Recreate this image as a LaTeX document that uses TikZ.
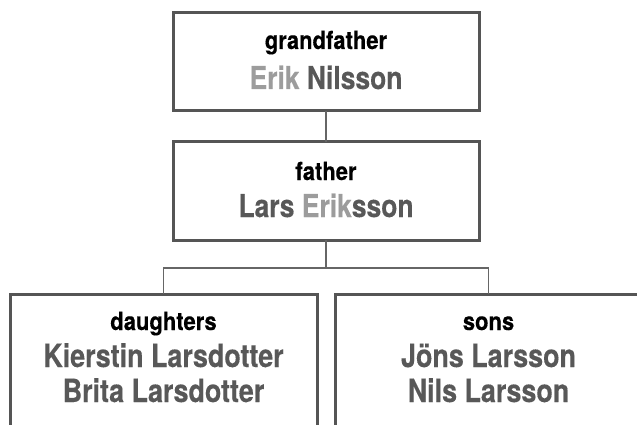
\documentclass[tikz,border=0pt]{standalone}
\usepackage{fontspec}
\setmainfont{TeX Gyre Heros}
\newfontfamily\labfont{TeX Gyre Heros}[FakeStretch=0.88,FakeBold=0.3]
\newfontfamily\namfont{TeX Gyre Heros}[FakeStretch=0.84,FakeBold=0.3]
\definecolor{boxgray}{HTML}{555555}
\definecolor{linegray}{HTML}{666666}
\definecolor{namedark}{HTML}{585858}
\definecolor{namelight}{HTML}{9C9C9C}
\begin{document}
\begin{tikzpicture}[x=1pt,y=-1pt,
  box/.style={draw=boxgray,line width=3pt,fill=white,minimum width=306pt,minimum height=98pt,inner sep=0pt,outer sep=0pt},
  childbox/.style={box,minimum width=307pt,minimum height=180pt},
  conn/.style={draw=linegray,line width=1.6pt},
  lab/.style={anchor=base,inner sep=0pt,font=\labfont\bfseries\fontsize{25}{25}\selectfont,text=black},
  nam/.style={anchor=base,inner sep=0pt,font=\namfont\bfseries\fontsize{31.5}{31.5}\selectfont,text=namedark},
  cnam/.style={nam,font=\namfont\bfseries\fontsize{32}{32}\selectfont}
]
\useasboundingbox (0,0) rectangle (637,425);
\clip (0,0) rectangle (637,425);
\coordinate (fork) at (326,268);
\node[box] (gf) at (326,62) {};
\node[box] (fa) at (326,191) {};
\node[childbox] (da) at (163.5,384) {};
\node[childbox] (so) at (488.5,384) {};
\draw[conn] (gf.south) -- (fa.north);
\draw[conn] (fa.south) -- (fork);
\draw[conn] (da.north) |- (fork) -| (so.north);
\node[lab] (gfl) at (326,49) {grandfather};
\node[nam] (gfn) at (326,89) {\textcolor{namelight}{Erik} Nilsson};
\node[lab] (fal) at (326,180) {father};
\node[nam] (fan) at (326,217) {Lars \textcolor{namelight}{Erik}sson};
\node[lab] (dal) at (163.5,330) {daughters};
\node[cnam] (dan1) at (163.5,367) {Kierstin Larsdotter};
\node[cnam] (dan2) at (163.5,402) {Brita Larsdotter};
\node[lab] (sol) at (488.5,330) {sons};
\node[cnam] (son1) at (488.5,367) {Jöns Larsson};
\node[cnam] (son2) at (488.5,402) {Nils Larsson};
\end{tikzpicture}
\end{document}
